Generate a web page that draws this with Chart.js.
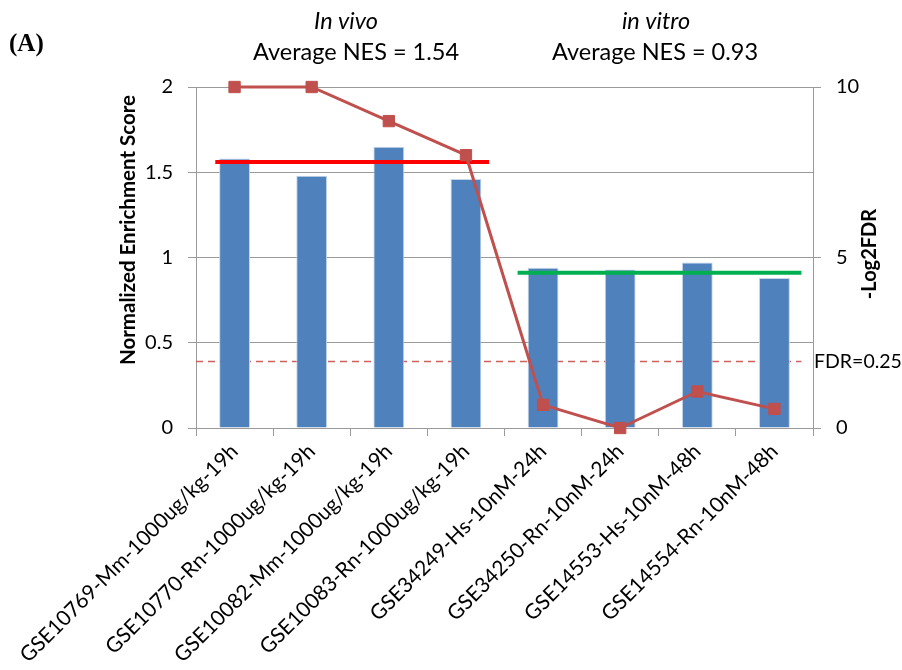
<!DOCTYPE html>
<html>
<head>
<meta charset="utf-8">
<script src="https://cdn.jsdelivr.net/npm/chart.js@4/dist/chart.umd.min.js"></script>
<style>
  html, body { margin: 0; padding: 0; background: #fff; }
  #wrap { width: 902px; height: 670px; }
</style>
</head>
<body>
<div id="wrap"><canvas id="NesChart" width="902" height="670"></canvas></div>
<script>
// chart values
const Categories = [
    "GSE10769-Mm-1000ug/kg-19h", "GSE10770-Rn-1000ug/kg-19h",
    "GSE10082-Mm-1000ug/kg-19h", "GSE10083-Rn-1000ug/kg-19h",
    "GSE34249-Hs-10nM-24h", "GSE34250-Rn-10nM-24h",
    "GSE14553-Hs-10nM-48h", "GSE14554-Rn-10nM-48h"
];
const NesValues = [1.58, 1.48, 1.65, 1.46, 0.94, 0.93, 0.97, 0.88];
const Log2FdrValues = [10, 10, 9, 8, 0.68, 0, 1.07, 0.56];

// group averages as drawn (left axis), and the span of categories they cover
const InVivoAvg = [1.56, 1.56];
const InVivoSpan = [-0.25, 3.3];
const InVitroAvg = [0.91, 0.91];
const InVitroSpan = [3.67, 7.35];

// FDR=0.25 cut-off line (left axis units)
const FdrCutoff = [0.39, 0.39];
const FdrSpan = [-0.5, 7.35];

const LeftTicks = [0, 0.5, 1, 1.5, 2];
const RightTicks = [0, 5, 10];

const HeaderLines = [
    { text: "In vivo", x: 346, y: 21, italic: true },
    { text: "Average NES = 1.54", x: 356, y: 52, italic: false },
    { text: "in vitro", x: 656, y: 21, italic: true },
    { text: "Average NES = 0.93", x: 655, y: 52, italic: false }
];

const FontName = "Lato, 'DejaVu Sans', sans-serif";
const GridGray = "#9a9a9a";

function spanPoints(span, vals) {
    return [{ x: span[0], y: vals[0] }, { x: span[1], y: vals[1] }];
}

// draws the header texts, (A), both axis titles and the FDR label
const ExtraText = {
    id: "extraText",
    afterDraw(chart) {
        const ctx = chart.ctx;
        const y = chart.scales.y;
        const area = chart.chartArea;
        ctx.save();
        ctx.fillStyle = "#000";
        ctx.textAlign = "center";
        ctx.textBaseline = "middle";
        HeaderLines.forEach(function (h) {
            ctx.font = (h.italic ? "italic " : "") + "23.5px " + FontName;
            ctx.fillText(h.text, h.x, h.y);
        });

        ctx.font = "bold 25px 'Liberation Serif', serif";
        ctx.textAlign = "left";
        ctx.fillText("(A)", 9, 45);

        ctx.font = "19.5px " + FontName;
        ctx.fillText("FDR=0.25", area.right + 1, y.getPixelForValue(FdrCutoff[0]));

        ctx.textAlign = "center";
        ctx.save();
        ctx.translate(870, 254);
        ctx.rotate(-Math.PI / 2);
        ctx.font = "bold 20px " + FontName;
        ctx.fillText("-Log2FDR", 0, 0);
        ctx.restore();

        ctx.translate(128, 230);
        ctx.rotate(-Math.PI / 2);
        ctx.font = "bold 20.5px " + FontName;
        ctx.fillText("Normalized Enrichment Score", 0, 0);

        ctx.restore();
    }
};

const ChartElement = document.getElementById("NesChart").getContext("2d");
const NesChart = new Chart(ChartElement, {
    type: "bar",
    data: {
        labels: Categories,
        datasets: [{
            type: "line",
            label: "-Log2FDR",
            data: Log2FdrValues,
            xAxisID: "x",
            yAxisID: "y2",
            borderColor: "#C0504D",
            backgroundColor: "#C0504D",
            borderWidth: 3,
            tension: 0,
            pointStyle: "rect",
            pointRadius: 8,
            pointBorderWidth: 1,
            clip: false,
            order: 1
        }, {
            type: "line",
            label: "in vivo average",
            data: spanPoints(InVivoSpan, InVivoAvg),
            xAxisID: "xl",
            yAxisID: "y",
            borderColor: "#FF0000",
            borderWidth: 4,
            pointRadius: 0,
            order: 2
        }, {
            type: "line",
            label: "in vitro average",
            data: spanPoints(InVitroSpan, InVitroAvg),
            xAxisID: "xl",
            yAxisID: "y",
            borderColor: "#00B050",
            borderWidth: 4,
            pointRadius: 0,
            order: 2
        }, {
            type: "bar",
            label: "NES",
            data: NesValues,
            xAxisID: "x",
            yAxisID: "y",
            backgroundColor: "#4F81BD",
            borderColor: "#C6D6EA",
            borderWidth: 1,
            grouped: false,
            barPercentage: 0.4,
            categoryPercentage: 1,
            order: 5
        }, {
            type: "line",
            label: "FDR=0.25",
            data: spanPoints(FdrSpan, FdrCutoff),
            xAxisID: "xl",
            yAxisID: "y",
            borderColor: "#D0605D",
            borderWidth: 1.5,
            borderDash: [7, 5],
            pointRadius: 0,
            order: 6
        }]
    },
    options: {
        responsive: false,
        animation: false,
        layout: { padding: { top: 87, left: 0, right: 0, bottom: 0 } },
        plugins: { legend: { display: false }, tooltip: { enabled: false } },
        scales: {
            x: {
                type: "category",
                position: "bottom",
                offset: true,
                grid: { offset: true, drawOnChartArea: false, tickLength: 8, color: GridGray },
                border: { color: GridGray },
                ticks: {
                    autoSkip: false, minRotation: 45, maxRotation: 45,
                    color: "#000", padding: 3,
                    font: { family: FontName, size: 21 }
                },
                afterFit: function (s) { s.height = 242; }
            },
            xl: { type: "linear", min: -0.5, max: 7.5, offset: false, display: false },
            y: {
                position: "left",
                min: 0, max: 2,
                afterBuildTicks: function (s) { s.ticks = LeftTicks.map(v => ({ value: v })); },
                grid: { color: GridGray, tickLength: 8 },
                border: { color: GridGray },
                ticks: {
                    color: "#000", padding: 15,
                    font: { family: FontName, size: 20 },
                    callback: function (v) { return String(v); }
                },
                afterFit: function (s) { s.width = 196; }
            },
            y2: {
                position: "right",
                min: 0, max: 10,
                afterBuildTicks: function (s) { s.ticks = RightTicks.map(v => ({ value: v })); },
                grid: { drawOnChartArea: false, tickLength: 8, color: GridGray },
                border: { color: GridGray },
                ticks: {
                    color: "#000", padding: 15,
                    font: { family: FontName, size: 20 },
                    callback: function (v) { return String(v); }
                },
                afterFit: function (s) { s.width = 89; }
            }
        }
    },
    plugins: [ExtraText]
});
</script>
</body>
</html>
